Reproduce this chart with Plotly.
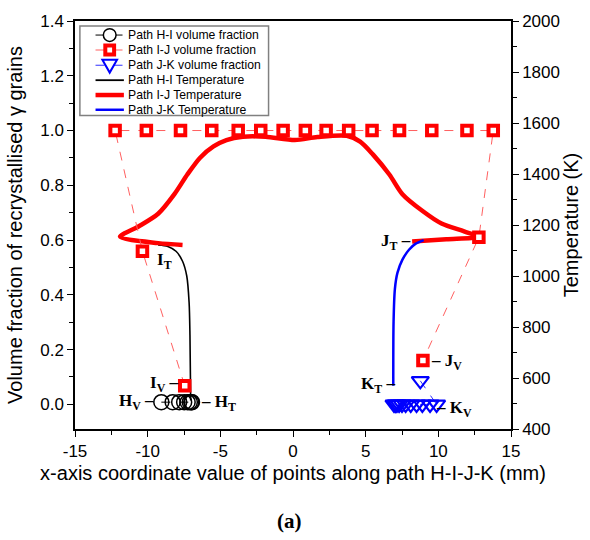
import plotly.graph_objects as go

# ---- data ----
# Path H-I volume fraction (open circles)
hi_vf_x = [-9.06, -8.28, -7.83, -7.49, -7.25, -7.10, -7.00, -6.95]
hi_vf_y = [0.008, 0.008, 0.008, 0.008, 0.008, 0.008, 0.008, 0.008]

# Path I-J volume fraction (squares)
ij_vf_x = [-7.45, -10.36, -12.24, -10.09, -7.74, -5.59, -3.77, -2.22, -0.68, 0.85,
           2.28, 3.83, 5.44, 7.33, 9.55, 11.97, 13.78, 12.79, 8.94]
ij_vf_y = [0.068, 0.559, 1.0, 1.0, 1.0, 1.0, 1.0, 1.0, 1.0, 1.0,
           1.0, 1.0, 1.0, 1.0, 1.0, 1.0, 1.0, 0.61, 0.16]

# Path J-K volume fraction (triangles)
jk_vf_x = [8.76, 9.88, 9.43, 8.90, 8.50, 8.10, 7.75, 7.50, 7.30, 7.15, 7.05, 6.95]
jk_vf_y = [0.086, 0.0, 0.0, 0.0, 0.0, 0.0, 0.0, 0.0, 0.0, 0.0, 0.0, 0.0]

# Path H-I temperature (K)
hi_t_x = [-9.28, -8.61, -8.05, -7.60, -7.31, -7.15, -7.09, -7.04]
hi_t_y = [1122, 1116, 1097, 1058, 1000, 897, 769, 512]

# Path I-J temperature (K)
ij_t_x = [-7.60, -9.28, -11.90, -10.63, -9.28, -8.16, -7.27, -6.39, -5.47, -4.58,
          -3.45, -1.89, 0.13, 1.68, 3.70, 4.62, 5.51, 6.63, 7.53, 8.87,
          10.22, 11.77, 12.77, 10.55, 8.20]
ij_t_y = [1122, 1129, 1154, 1194, 1244, 1321, 1398, 1464, 1508, 1533,
          1546, 1546, 1533, 1545, 1550, 1527, 1476, 1398, 1321, 1257,
          1206, 1175, 1154, 1144, 1135]

# Path J-K temperature (K)
jk_t_x = [8.99, 8.42, 7.98, 7.53, 7.19, 7.01, 6.92, 6.90]
jk_t_y = [1141, 1126, 1103, 1064, 1013, 949, 820, 570]

# tick labels
x_ticks = [-15, -10, -5, 0, 5, 10, 15]
x_ticktext = ["-15", "-10", "-5", "0", "5", "10", "15"]

# point labels: (text, x, volume fraction, anchor)
labels = [
    ("H<sub>V</sub> –", -9.40, 0.008, "right"),
    ("– H<sub>T</sub>", -6.50, 0.005, "left"),
    ("I<sub>V</sub> –", -7.80, 0.075, "right"),
    ("I<sub>T</sub>", -9.50, 0.525, "left"),
    ("J<sub>T</sub> –", 8.25, 0.592, "right"),
    ("– J<sub>V</sub>", 9.34, 0.155, "left"),
    ("K<sub>T</sub> –", 7.19, 0.070, "right"),
    ("– K<sub>V</sub>", 9.68, -0.018, "left"),
]

legend_names = ["Path H-I volume fraction", "Path I-J volume fraction",
                "Path J-K volume fraction", "Path H-I Temperature",
                "Path I-J Temperature", "Path J-K Temperature"]

fig = go.Figure()

fig.add_trace(go.Scatter(
    x=hi_vf_x, y=hi_vf_y, yaxis="y2", mode="lines+markers",
    name=legend_names[0], showlegend=False,
    line=dict(color="black", width=1, dash="dash"),
    marker=dict(symbol="circle-open", size=15, color="black", line=dict(width=1.5))))
fig.add_trace(go.Scatter(
    x=ij_vf_x, y=ij_vf_y, yaxis="y2", mode="lines+markers",
    name=legend_names[1], showlegend=False,
    line=dict(color="#ff6060", width=1, dash="dash"),
    marker=dict(symbol="square", size=9.5, color="white", line=dict(color="red", width=4))))
fig.add_trace(go.Scatter(
    x=jk_vf_x, y=jk_vf_y, yaxis="y2", mode="lines+markers",
    name=legend_names[2], showlegend=False,
    line=dict(color="#3030ff", width=1, dash="dash"),
    marker=dict(symbol="triangle-down-open", size=15, color="blue", line=dict(width=2.2))))
fig.add_trace(go.Scatter(
    x=hi_t_x, y=hi_t_y, yaxis="y", mode="lines",
    name=legend_names[3], showlegend=False,
    line=dict(color="black", width=1.6, shape="spline", smoothing=0.8)))
fig.add_trace(go.Scatter(
    x=ij_t_x, y=ij_t_y, yaxis="y", mode="lines",
    name=legend_names[4], showlegend=False,
    line=dict(color="red", width=4.5, shape="spline", smoothing=0.8)))
fig.add_trace(go.Scatter(
    x=jk_t_x, y=jk_t_y, yaxis="y", mode="lines",
    name=legend_names[5], showlegend=False,
    line=dict(color="blue", width=2.5, shape="spline", smoothing=0.8)))

serif = "Liberation Serif, Times New Roman, serif"
sans = "Liberation Sans, Arial, sans-serif"

for txt, lx, ly, anc in labels:
    fig.add_annotation(x=lx, y=ly, xref="x", yref="y2", text="<b>" + txt + "</b>",
                       showarrow=False, xanchor=anc, yanchor="middle",
                       font=dict(family=serif, size=17, color="black"))

fig.add_annotation(x=0.493, y=-0.225, xref="paper", yref="paper", text="<b>(a)</b>",
                   showarrow=False, xanchor="center", yanchor="middle",
                   font=dict(family=serif, size=21, color="black"))

# ---- hand-built legend (compact rows like the reference) ----
L, T, W, H = 75.0, 14.0, 446.0, 415.0


def fx(px):
    return (px - L) / W


def fy(py):
    return 1 - (py - T) / H


shapes = [dict(type="rect", xref="paper", yref="paper",
               x0=fx(80), x1=fx(273), y0=fy(110), y1=fy(19),
               line=dict(color="#808080", width=1.5), fillcolor="white", layer="above")]
rows = [28.3, 43.5, 59, 74.2, 89.3, 104.3]
styles = [("black", 1, "dash"), ("#ff6060", 1, "dash"), ("#3030ff", 1, "dash"),
          ("black", 1.8, "solid"), ("red", 4.5, "solid"), ("blue", 2.5, "solid")]
for r, (c, w, d) in zip(rows, styles):
    shapes.append(dict(type="line", xref="paper", yref="paper",
                       x0=fx(96), x1=fx(125), y0=fy(r), y1=fy(r),
                       line=dict(color=c, width=w, dash=d), layer="above"))
cx = 110.5
# circle sample
shapes.append(dict(type="circle", xref="paper", yref="paper",
                   x0=fx(cx - 6.5), x1=fx(cx + 6.5), y0=fy(rows[0] + 6.5), y1=fy(rows[0] - 6.5),
                   line=dict(color="black", width=1.5), fillcolor="white", layer="above"))
# square sample
shapes.append(dict(type="rect", xref="paper", yref="paper",
                   x0=fx(cx - 4.5), x1=fx(cx + 4.5), y0=fy(rows[1] + 4.5), y1=fy(rows[1] - 4.5),
                   line=dict(color="red", width=4), fillcolor="white", layer="above"))
# triangle sample
r3 = rows[2]
tri = "M {:.5f} {:.5f} L {:.5f} {:.5f} L {:.5f} {:.5f} Z".format(
    fx(cx - 7.5), fy(r3 - 5.5), fx(cx + 7.5), fy(r3 - 5.5), fx(cx), fy(r3 + 7.5))
shapes.append(dict(type="path", xref="paper", yref="paper", path=tri,
                   line=dict(color="blue", width=2), fillcolor="white", layer="above"))

for r, name in zip(rows, legend_names):
    fig.add_annotation(x=fx(127.5), y=fy(r), xref="paper", yref="paper", text=name,
                       showarrow=False, xanchor="left", yanchor="middle",
                       font=dict(family=sans, size=12.2, color="black"))

tickfont = dict(family=sans, size=17, color="black")
titlefont = dict(family=sans, size=20, color="black")

fig.update_layout(
    width=590, height=540,
    margin=dict(l=75, r=69, t=14, b=111),
    paper_bgcolor="white", plot_bgcolor="white",
    showlegend=False,
    shapes=shapes,
    xaxis=dict(range=[-15, 15], tickvals=x_ticks, ticktext=x_ticktext,
               ticks="outside", ticklen=6, tickwidth=1.2, tickcolor="black",
               minor=dict(dtick=2.5, ticks="outside", ticklen=4, tickcolor="black"),
               showline=True, linecolor="black", linewidth=1.5, mirror=True,
               showgrid=False, zeroline=False, tickfont=tickfont,
               title=dict(text="x-axis coordinate value of points along path H-I-J-K (mm)",
                          font=titlefont, standoff=6)),
    xaxis2=dict(range=[-15, 15], dtick=5, tick0=-15, overlaying="x", side="top",
                anchor="y", ticks="inside", ticklen=6, tickcolor="black",
                minor=dict(dtick=2.5, ticks="inside", ticklen=4, tickcolor="black"),
                showticklabels=False, showgrid=False, zeroline=False, showline=False),
    yaxis=dict(range=[400, 2000], dtick=200, tick0=400, side="right", ticks="outside",
               ticklen=6, tickwidth=1.2, tickcolor="black",
               minor=dict(dtick=100, ticks="outside", ticklen=4, tickcolor="black"),
               showline=True, linecolor="black", linewidth=1.5,
               showgrid=False, zeroline=False, tickfont=tickfont,
               title=dict(text="Temperature (K)", font=titlefont, standoff=4)),
    yaxis2=dict(range=[-0.09, 1.4], dtick=0.2, tick0=0, tickformat=".1f", side="left",
                overlaying="y", anchor="x", ticks="outside", ticklen=6, tickwidth=1.2,
                tickcolor="black",
                minor=dict(dtick=0.1, ticks="outside", ticklen=4, tickcolor="black"),
                showline=True, linecolor="black", linewidth=1.5,
                showgrid=False, zeroline=False, tickfont=tickfont,
                title=dict(text="Volume fraction of recrystallised γ grains",
                           font=titlefont, standoff=12)),
)

fig.write_html("out.html")
